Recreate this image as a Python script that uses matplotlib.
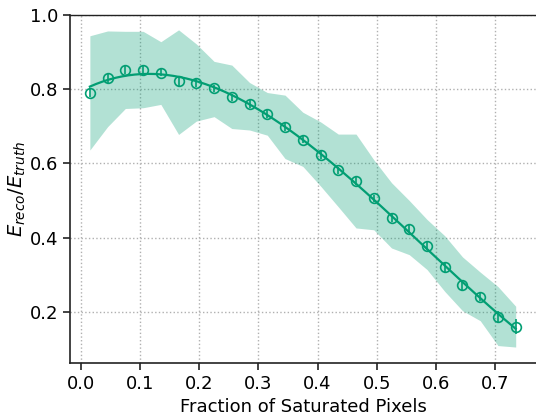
import numpy as np
import matplotlib
matplotlib.use("Agg")
import matplotlib.pyplot as plt

# Data
frac = [0.015, 0.045, 0.075, 0.105, 0.135, 0.165, 0.195, 0.225, 0.255, 0.285,
        0.315, 0.345, 0.375, 0.405, 0.435, 0.465, 0.495, 0.525, 0.555, 0.585,
        0.615, 0.645, 0.675, 0.705, 0.735]
ratio = [0.791, 0.829, 0.852, 0.852, 0.845, 0.821, 0.818, 0.802, 0.778, 0.760,
         0.733, 0.698, 0.664, 0.623, 0.581, 0.552, 0.506, 0.454, 0.424, 0.377,
         0.320, 0.272, 0.240, 0.187, 0.160]
ratio_err = [0.012, 0.012, 0.012, 0.012, 0.010, 0.012, 0.012, 0.010, 0.010, 0.010,
             0.010, 0.010, 0.010, 0.010, 0.010, 0.010, 0.010, 0.012, 0.010, 0.010,
             0.012, 0.012, 0.012, 0.016, 0.020]
band_upper = [0.944, 0.957, 0.956, 0.956, 0.928, 0.960, 0.922, 0.875, 0.865, 0.818,
              0.791, 0.784, 0.738, 0.712, 0.679, 0.679, 0.610, 0.548, 0.500, 0.449,
              0.405, 0.348, 0.307, 0.268, 0.215]
band_lower = [0.636, 0.699, 0.748, 0.750, 0.759, 0.678, 0.714, 0.726, 0.694, 0.690,
              0.676, 0.613, 0.592, 0.539, 0.483, 0.426, 0.421, 0.372, 0.354, 0.314,
              0.255, 0.203, 0.176, 0.109, 0.105]

color = "#029E73"

fig = plt.figure(figsize=(5.36, 4.19), dpi=100)
ax = fig.add_axes([70 / 536, (419 - 363) / 419, 467 / 536, (363 - 15) / 419])

x = np.array(frac)
y = np.array(ratio)
ax.fill_between(x, band_lower, band_upper, color=color, alpha=0.3, linewidth=0)

coef = np.polyfit(x, y, 3)
xf = np.linspace(x.min(), x.max(), 200)
ax.plot(xf, np.polyval(coef, xf), color=color, lw=1.6)

ax.errorbar(x, y, yerr=ratio_err, fmt="o", mfc="none", mec=color, ecolor=color,
            ms=7, mew=1.2, elinewidth=1.2, capsize=0)

ax.set_xlim(-0.0186, 0.771)
ax.set_ylim(0.062, 1.0)
ax.set_xticks([0.0, 0.1, 0.2, 0.3, 0.4, 0.5, 0.6, 0.7])
ax.set_yticks([0.2, 0.4, 0.6, 0.8, 1.0])
ax.grid(True, ls=":", color="#b0b0b0", lw=1.0)
ax.set_axisbelow(True)
ax.tick_params(labelsize=13, direction="out", length=5, width=1.2, colors="#222222",
               labelcolor="black", top=False, right=False)
for s in ["left", "bottom"]:
    ax.spines[s].set_linewidth(1.2)
    ax.spines[s].set_color("#222222")
ax.spines["top"].set_linewidth(1.0)
ax.spines["top"].set_color("#222222")
ax.spines["right"].set_visible(False)

ax.set_xlabel("Fraction of Saturated Pixels", fontsize=13)
ax.set_ylabel(r"$E_{reco}/E_{truth}$", fontsize=14, labelpad=1)

fig.savefig("out.png", dpi=100)
